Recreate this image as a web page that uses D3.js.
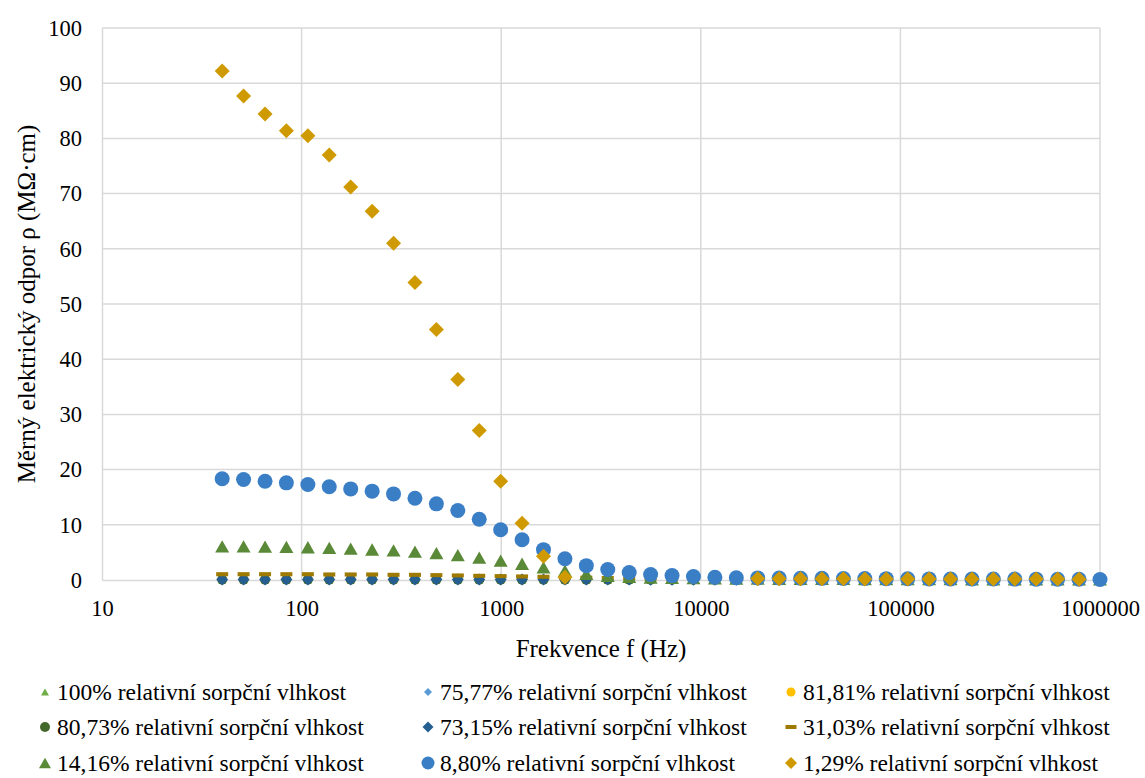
<!DOCTYPE html>
<html>
<head>
<meta charset="utf-8">
<script src="https://cdn.jsdelivr.net/npm/d3@7"></script>
<style>
  html, body { margin: 0; padding: 0; background: #fff; }
  svg text { font-family: "Times New Roman", "Liberation Serif", Tinos, "DejaVu Serif", serif; }
</style>
</head>
<body>
<svg id="chart" width="1145" height="778"></svg>
<script>
// Measurement frequencies (Hz), logarithmic sweep 40 Hz – 1 MHz
const frequencies = [
  40, 51.2, 65.6, 83.9, 107.5, 137.6, 176.2, 225.6, 288.8, 369.8,
  473.5, 606.2, 776.2, 993.8, 1272, 1629, 2086, 2670, 3419, 4378,
  5605, 7176, 9188, 11763, 15061, 19283, 24689, 31611, 40473, 51819,
  66346, 84945, 108760, 139250, 178280, 228260, 292250, 374180, 479080, 613380,
  785330, 1000000
];

// Resistivity (MΩ·cm) for each relative sorption moisture
const rh100 = [
  0.03, 0.03, 0.03, 0.03, 0.03, 0.03, 0.03, 0.03, 0.03, 0.03,
  0.03, 0.03, 0.03, 0.03, 0.03, 0.02, 0.02, 0.02, 0.02, 0.02,
  0.02, 0.02, 0.02, 0.02, 0.02, 0.02, 0.02, 0.02, 0.02, 0.02,
  0.02, 0.02, 0.02, 0.02, 0.02, 0.02, 0.02, 0.02, 0.02, 0.02,
  0.02, 0.02
];
const rh7577 = [
  0.05, 0.05, 0.05, 0.05, 0.05, 0.05, 0.05, 0.05, 0.05, 0.05,
  0.05, 0.05, 0.04, 0.04, 0.04, 0.04, 0.04, 0.04, 0.04, 0.04,
  0.03, 0.03, 0.03, 0.03, 0.03, 0.03, 0.03, 0.03, 0.03, 0.03,
  0.03, 0.03, 0.03, 0.03, 0.03, 0.03, 0.03, 0.03, 0.03, 0.03,
  0.03, 0.03
];
const rh8181 = [
  0.06, 0.06, 0.06, 0.06, 0.06, 0.06, 0.06, 0.06, 0.06, 0.06,
  0.06, 0.06, 0.05, 0.05, 0.05, 0.05, 0.05, 0.05, 0.05, 0.04,
  0.04, 0.04, 0.04, 0.04, 0.04, 0.04, 0.04, 0.04, 0.04, 0.04,
  0.04, 0.04, 0.04, 0.04, 0.04, 0.04, 0.04, 0.04, 0.04, 0.04,
  0.04, 0.04
];
const rh8073 = [
  0.07, 0.07, 0.07, 0.07, 0.07, 0.07, 0.07, 0.07, 0.07, 0.07,
  0.07, 0.07, 0.06, 0.06, 0.06, 0.06, 0.06, 0.06, 0.06, 0.05,
  0.05, 0.05, 0.05, 0.05, 0.05, 0.05, 0.05, 0.05, 0.05, 0.05,
  0.05, 0.05, 0.05, 0.05, 0.05, 0.05, 0.05, 0.05, 0.05, 0.05,
  0.05, 0.05
];
const rh7315 = [
  0.08, 0.08, 0.08, 0.08, 0.08, 0.08, 0.08, 0.08, 0.08, 0.08,
  0.08, 0.08, 0.08, 0.07, 0.07, 0.07, 0.07, 0.07, 0.07, 0.07,
  0.06, 0.06, 0.06, 0.06, 0.06, 0.06, 0.06, 0.06, 0.06, 0.06,
  0.06, 0.06, 0.06, 0.06, 0.06, 0.06, 0.06, 0.06, 0.06, 0.06,
  0.06, 0.06
];
const rh3103 = [
  1.05, 1.05, 1.05, 1.05, 1.05, 1.0, 1.0, 1.0, 0.94, 0.94,
  0.88, 0.82, 0.76, 0.7, 0.64, 0.58, 0.5, 0.42, 0.36, 0.3,
  0.26, 0.23, 0.2, 0.18, 0.17, 0.16, 0.15, 0.14, 0.13, 0.13,
  0.12, 0.12, 0.11, 0.11, 0.1, 0.1, 0.1, 0.09, 0.09, 0.09,
  0.08, 0.08
];
const rh1416 = [
  6.1, 6.1, 6.05, 6.0, 5.93, 5.82, 5.7, 5.52, 5.38, 5.14,
  4.88, 4.52, 4.05, 3.5, 2.94, 2.3, 1.7, 1.1, 0.75, 0.55,
  0.45, 0.38, 0.33, 0.3, 0.27, 0.25, 0.23, 0.22, 0.2, 0.19,
  0.18, 0.17, 0.16, 0.15, 0.15, 0.14, 0.14, 0.13, 0.13, 0.12,
  0.12, 0.11
];
const rh880 = [
  18.35, 18.2, 17.9, 17.6, 17.3, 16.9, 16.5, 16.1, 15.6, 14.8,
  13.8, 12.6, 11.0, 9.1, 7.3, 5.5, 3.85, 2.6, 1.9, 1.36,
  1.0, 0.8, 0.63, 0.5, 0.42, 0.38, 0.35, 0.32, 0.3, 0.28,
  0.26, 0.24, 0.22, 0.2, 0.19, 0.18, 0.17, 0.16, 0.15, 0.14,
  0.13, 0.1
];
const rh129 = [
  92.2, 87.7, 84.4, 81.4, 80.5, 77.0, 71.2, 66.8, 61.0, 53.9,
  45.4, 36.3, 27.1, 17.9, 10.3, 4.3, 0.5, null, null, null,
  null, null, null, null, null, 0.25, 0.24, 0.23, 0.22, 0.21,
  0.2, 0.2, 0.19, 0.19, 0.18, 0.18, 0.17, 0.17, 0.16, 0.16,
  0.15, null
];

const seriesLabels = [
  "100% relativní sorpční vlhkost",
  "75,77% relativní sorpční vlhkost",
  "81,81% relativní sorpční vlhkost",
  "80,73% relativní sorpční vlhkost",
  "73,15% relativní sorpční vlhkost",
  "31,03% relativní sorpční vlhkost",
  "14,16% relativní sorpční vlhkost",
  "8,80% relativní sorpční vlhkost",
  "1,29% relativní sorpční vlhkost"
];
const seriesValues = [rh100, rh7577, rh8181, rh8073, rh7315, rh3103, rh1416, rh880, rh129];

const xTicks = [10, 100, 1000, 10000, 100000, 1000000];
const yTicks = [0, 10, 20, 30, 40, 50, 60, 70, 80, 90, 100];
const xTitle = "Frekvence f (Hz)";
const yTitle = "Měrný elektrický odpor ρ (MΩ·cm)";

// Marker styling per series: shape, colour, plot size, legend size
const styles = [
  { shape: "triangle", color: "#70AD47", size: 8,  legend: 8 },
  { shape: "diamond",  color: "#5B9BD5", size: 8,  legend: 8 },
  { shape: "circle",   color: "#FFC000", size: 9,  legend: 9 },
  { shape: "circle",   color: "#43682B", size: 10, legend: 10 },
  { shape: "diamond",  color: "#255E91", size: 12, legend: 11 },
  { shape: "dash",     color: "#9E7A00", size: 12, legend: 11 },
  { shape: "triangle", color: "#5A8A37", size: 14, legend: 12 },
  { shape: "circle",   color: "#3A7EC6", size: 15, legend: 13 },
  { shape: "diamond",  color: "#CF9A00", size: 15, legend: 12 }
];

// Path of a marker centred on (0,0) with bounding box s×s
function markerPath(shape, s) {
  const h = s / 2;
  if (shape === "triangle") {
    const th = s * 0.88 / 2;
    return `M0,${-th}L${h},${th}L${-h},${th}Z`;
  }
  if (shape === "diamond") {
    return `M0,${-h}L${h},0L0,${h}L${-h},0Z`;
  }
  if (shape === "dash") {
    const dh = Math.max(2, s * 0.17);
    return `M${-h},${-dh}L${h},${-dh}L${h},${dh}L${-h},${dh}Z`;
  }
  const p = d3.path();
  p.arc(0, 0, h, 0, 2 * Math.PI);
  p.closePath();
  return p.toString();
}

const svg = d3.select("#chart");
const plot = { left: 102, right: 1100, top: 28, bottom: 580 };
const tickFont = 22.5;
const titleFont = 25;
const legendFont = 23.5;

const x = d3.scaleLog().domain([10, 1000000]).range([plot.left, plot.right]);
const y = d3.scaleLinear().domain([0, 100]).range([plot.bottom, plot.top]);

const gridColor = "#D9D9D9";

// Horizontal grid lines
svg.append("g")
  .selectAll("line")
  .data(yTicks.filter(d => d > 0))
  .join("line")
  .attr("x1", plot.left).attr("x2", plot.right)
  .attr("y1", d => y(d)).attr("y2", d => y(d))
  .attr("stroke", gridColor).attr("stroke-width", 1.5);

// Vertical grid lines
svg.append("g")
  .selectAll("line")
  .data(xTicks.filter(d => d > 10))
  .join("line")
  .attr("x1", d => x(d)).attr("x2", d => x(d))
  .attr("y1", plot.top).attr("y2", plot.bottom)
  .attr("stroke", gridColor).attr("stroke-width", 1.5);

// Y axis
const yAxis = svg.append("g")
  .attr("transform", `translate(${plot.left},0)`)
  .call(d3.axisLeft(y).tickValues(yTicks).tickSize(0).tickPadding(20).tickFormat(d3.format("d")));
yAxis.attr("font-family", null).attr("font-size", null);
yAxis.select(".domain").attr("stroke", gridColor).attr("stroke-width", 1.5);
yAxis.selectAll("text").style("font-size", tickFont + "px").attr("fill", "#000");

// X axis
const xAxis = svg.append("g")
  .attr("transform", `translate(0,${plot.bottom})`)
  .call(d3.axisBottom(x).tickValues(xTicks).tickSize(0).tickPadding(20).tickFormat(d3.format("d")));
xAxis.attr("font-family", null).attr("font-size", null);
xAxis.select(".domain").attr("stroke", gridColor).attr("stroke-width", 1.5);
xAxis.selectAll("text").style("font-size", tickFont + "px").attr("fill", "#000");

// Axis titles
svg.append("text")
  .attr("x", (plot.left + plot.right) / 2)
  .attr("y", 657)
  .attr("text-anchor", "middle")
  .style("font-size", titleFont + "px")
  .text(xTitle);

svg.append("text")
  .attr("transform", `translate(35,${(plot.top + plot.bottom) / 2}) rotate(-90)`)
  .attr("text-anchor", "middle")
  .style("font-size", titleFont + "px")
  .text(yTitle);

// Data markers, later series on top
seriesValues.forEach((vals, i) => {
  const st = styles[i];
  const pts = frequencies.map((f, j) => ({ f, v: vals[j] })).filter(d => d.v !== null);
  svg.append("g")
    .selectAll("path")
    .data(pts)
    .join("path")
    .attr("d", markerPath(st.shape, st.size))
    .attr("transform", d => `translate(${x(d.f)},${y(d.v)})`)
    .attr("fill", st.color);
});

// Legend: three columns, three rows
const legendCols = [45, 428, 791];
const legendRows = [692, 727, 763];
const legend = svg.append("g");
seriesLabels.forEach((label, i) => {
  const cx = legendCols[i % 3];
  const cy = legendRows[Math.floor(i / 3)];
  const st = styles[i];
  legend.append("path")
    .attr("d", markerPath(st.shape, st.legend))
    .attr("transform", `translate(${cx},${cy})`)
    .attr("fill", st.color);
  legend.append("text")
    .attr("x", cx + 12)
    .attr("y", cy)
    .attr("dy", "0.35em")
    .style("font-size", legendFont + "px")
    .text(label);
});
</script>
</body>
</html>
